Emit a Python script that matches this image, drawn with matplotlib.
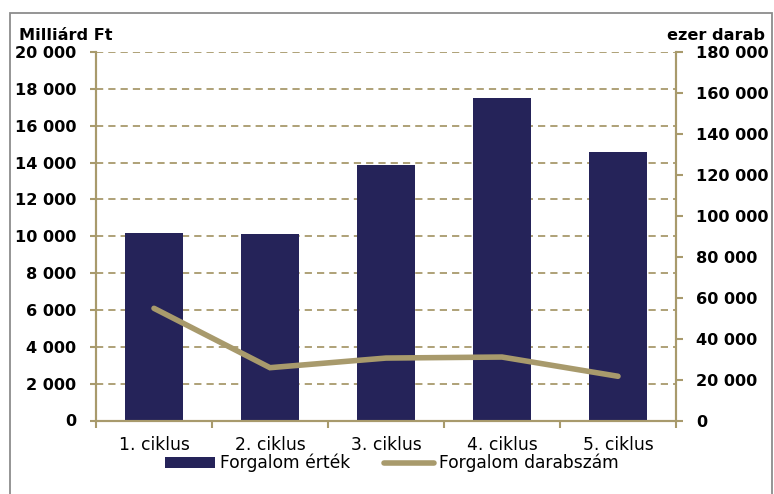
import matplotlib.pyplot as plt
from matplotlib.patches import Rectangle

ciklusok = ['1. ciklus', '2. ciklus', '3. ciklus', '4. ciklus', '5. ciklus']
forgalom_ertek = [10200, 10120, 13870, 17480, 14550]  # Milliard Ft
forgalom_darab = [54800, 25800, 30500, 31000, 21600]  # ezer darab
bal_tengely = [0, 2000, 4000, 6000, 8000, 10000, 12000, 14000, 16000, 18000, 20000]
jobb_tengely = [0, 20000, 40000, 60000, 80000, 100000, 120000, 140000, 160000, 180000]

navy = '#252359'
khaki = '#A89A6C'

def ezres(v):
    return '{:,}'.format(int(v)).replace(',', ' ')
#thousands separated by a space

fig = plt.figure(figsize=(7.74, 4.94), dpi=100)
ax = fig.add_axes([96/774, 1-420.5/494, 580/774, 368.5/494])
ax2 = ax.twinx()

x = list(range(len(ciklusok)))
ax.bar(x, forgalom_ertek, width=0.5, color=navy, zorder=2, label='Forgalom érték')
ax2.plot(x, forgalom_darab, color=khaki, lw=4, solid_capstyle='round', solid_joinstyle='miter',
         label='Forgalom darabszám')
#bars on left axis, line on right axis

ax.set_xlim(-0.5, len(ciklusok)-0.5)
ax.set_ylim(0, 20000)
ax2.set_ylim(0, 180000)
ax.set_yticks(bal_tengely)
ax.set_yticklabels([ezres(v) for v in bal_tengely], fontsize=11.6, fontweight='bold')
ax2.set_yticks(jobb_tengely)
ax2.set_yticklabels([ezres(v) for v in jobb_tengely], fontsize=11.6, fontweight='bold')

ax.set_xticks([i-0.5 for i in range(len(ciklusok)+1)])
ax.set_xticklabels([])
ax.set_xticks(x, minor=True)
ax.set_xticklabels(ciklusok, minor=True, fontsize=12.3)
ax.tick_params(axis='x', which='major', direction='out', length=5, width=1.5, color=khaki)
ax.tick_params(axis='x', which='minor', length=0, pad=11)
ax.tick_params(axis='y', direction='out', length=4.5, width=1.5, color=khaki, pad=9.5)
ax2.tick_params(axis='y', direction='out', length=5, width=1.5, color=khaki, pad=9.5)

ax.set_axisbelow(True)
ax.yaxis.grid(True, color=khaki, lw=1.3, linestyle=(0, (4, 2.8)))
for a in (ax, ax2):
    a.spines['top'].set_visible(False)
    for s in ('left', 'right', 'bottom'):
        a.spines[s].set_color(khaki)
        a.spines[s].set_linewidth(1.5)
#dashed khaki gridlines and axis lines

fig.text(19/774, 1-35/494, 'Milliárd Ft', fontsize=11.6, fontweight='bold', va='center', ha='left')
fig.text(765/774, 1-35/494, 'ezer darab', fontsize=11.6, fontweight='bold', va='center', ha='right')

h1, l1 = ax.get_legend_handles_labels()
h2, l2 = ax2.get_legend_handles_labels()
fig.legend(h1+h2, l1+l2, loc='center', bbox_to_anchor=(392/774, 1-463/494), ncol=2,
           frameon=False, fontsize=12.3, handlelength=2.9, handleheight=0.6,
           handletextpad=0.3, columnspacing=2.0, borderaxespad=0)

fig.patches.append(Rectangle((9.5/774, -0.1), (772-9.5)/774, 1.1-13.5/494, transform=fig.transFigure,
                             fill=False, edgecolor='#8c8c8c', lw=1.3))
#grey frame round the chart

plt.savefig('out.png', dpi=100)
